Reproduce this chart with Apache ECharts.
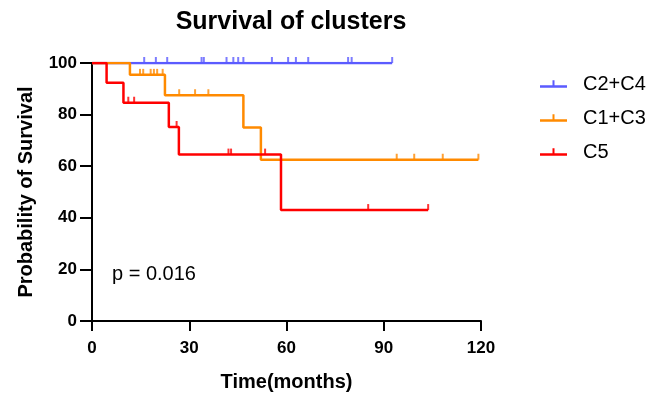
<!DOCTYPE html>
<html>
<head>
<meta charset="utf-8">
<script src="https://cdn.jsdelivr.net/npm/echarts@6/dist/echarts.min.js"></script>
<style>
  html, body { margin: 0; padding: 0; background: #fff; }
  #chart { width: 665px; height: 397px; }
</style>
</head>
<body>
<div id="chart"></div>
<script>
// Kaplan-Meier steps: [time (months), survival (%)], last point = end of follow-up
const stepsC2C4 = [[0, 100], [92.6, 100]];
const stepsC1C3 = [[0, 100], [11.7, 95.4], [22.5, 87.5], [46.7, 75], [52.1, 62.5], [119.2, 62.5]];
const stepsC5 = [[0, 100], [4.5, 92.3], [9.7, 84.6], [23.7, 75.2], [26.8, 64.5], [58.3, 43.0], [103.7, 43.0]];

// censored observations (months)
const censorC2C4 = [16.1, 19.7, 23.2, 33.8, 34.5, 41.5, 43.6, 45.1, 46.7, 55.5, 60.5, 62.9, 66.7, 79.0, 80.1, 92.6];
const censorC1C3 = [14.8, 15.8, 18.1, 19.1, 20.1, 21.8, 26.9, 31.8, 35.9, 94.0, 99.4, 108.2, 119.2];
const censorC5 = [11.2, 13.0, 26.1, 42.1, 42.9, 53.4, 85.2, 103.7];

const FONT = 'Liberation Sans, Arial, sans-serif';
const COLORS = {
    c2c4: '#5B5BFF', // blue
    c1c3: '#FF8A00', // orange
    c5: '#FF0000'    // red
};

// survival value at time t from a step list
function survAt(steps, t) {
    let v = steps[0][1];
    for (const s of steps) {
        if (s[0] <= t) v = s[1];
    }
    return v;
}

const chartDom = document.getElementById('chart');
const myChart = echarts.init(chartDom, null, { renderer: 'canvas' });

const groups = [
    { name: 'C2+C4', steps: stepsC2C4, censor: censorC2C4, color: COLORS.c2c4 },
    { name: 'C1+C3', steps: stepsC1C3, censor: censorC1C3, color: COLORS.c1c3 },
    { name: 'C5', steps: stepsC5, censor: censorC5, color: COLORS.c5 }
];

const series = [];
groups.forEach(function (g) {
    series.push({
        name: g.name,
        type: 'line',
        step: 'end',
        data: g.steps,
        showSymbol: false,
        color: g.color,
        lineStyle: { width: 2.5, color: g.color },
        z: 3
    });
    series.push({
        name: g.name,
        type: 'scatter',
        data: g.censor.map(function (t) { return [t, survAt(g.steps, t)]; }),
        symbol: 'rect',
        symbolSize: [2, 6],
        symbolOffset: [0, -3],
        color: g.color,
        itemStyle: { color: g.color },
        z: 4
    });
});

const legendIcon = 'path://M0,6h27v2.5h-27z M12.5,1h2v5h-2z';

const option = {
    animation: false,
    title: {
        text: 'Survival of clusters',
        left: 286,
        textAlign: 'center',
        top: 5,
        textStyle: { fontFamily: FONT, fontSize: 25, fontWeight: 'bold', color: '#000' }
    },
    legend: {
        orient: 'vertical',
        left: 535,
        top: 69,
        itemGap: 14,
        itemWidth: 27,
        itemHeight: 8,
        icon: legendIcon,
        data: groups.map(function (g) { return g.name; }),
        textStyle: { fontFamily: FONT, fontSize: 20, color: '#000', padding: [0, 0, 0, 11] }
    },
    grid: { left: 92, right: 184, top: 63, bottom: 74 },
    xAxis: {
        type: 'value',
        min: 0,
        max: 120,
        interval: 30,
        name: 'Time(months)',
        nameLocation: 'middle',
        nameGap: 51,
        nameTextStyle: { fontFamily: FONT, fontSize: 20, fontWeight: 'bold', color: '#000' },
        axisLine: { show: true, lineStyle: { color: '#000', width: 2 } },
        axisTick: { show: true, length: 10, lineStyle: { color: '#000', width: 2 } },
        axisLabel: { fontFamily: FONT, fontSize: 17, fontWeight: 'bold', color: '#000', margin: 19 },
        splitLine: { show: false }
    },
    yAxis: {
        type: 'value',
        min: 0,
        max: 100,
        interval: 20,
        name: 'Probability of Survival',
        nameLocation: 'middle',
        nameGap: 56,
        nameTextStyle: { fontFamily: FONT, fontSize: 20, fontWeight: 'bold', color: '#000' },
        axisLine: { show: true, lineStyle: { color: '#000', width: 2 } },
        axisTick: { show: true, length: 12, lineStyle: { color: '#000', width: 2 } },
        axisLabel: { fontFamily: FONT, fontSize: 17, fontWeight: 'bold', color: '#000', margin: 15 },
        splitLine: { show: false }
    },
    graphic: [{
        type: 'text',
        left: 112,
        top: 264,
        style: { text: 'p = 0.016', font: '20px ' + FONT, fill: '#000' }
    }],
    series: series
};

myChart.setOption(option);
</script>
</body>
</html>
